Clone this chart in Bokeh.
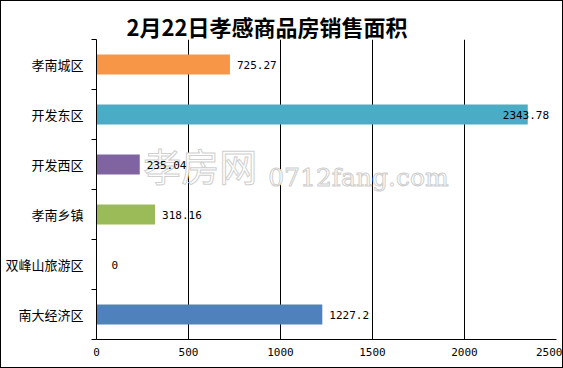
from bokeh.plotting import figure
from bokeh.models import FixedTicker, ColumnDataSource
from bokeh.core.properties import value
from bokeh.embed import file_html
from bokeh.resources import INLINE

categories = ["孝南城区", "开发东区", "开发西区", "孝南乡镇", "双峰山旅游区", "南大经济区"]
areas = [725.27, 2343.78, 235.04, 318.16, 0, 1227.2]
area_labels = ["725.27", "2343.78", "235.04", "318.16", "0", "1227.2"]
colors = ["#F79646", "#4BACC6", "#8064A2", "#9BBB59", "#4F81BD", "#4F81BD"]
x_ticks = [0, 500, 1000, 1500, 2000, 2500]
title_text = "2月22日孝感商品房销售面积"

n = len(categories)
ypos = [n - i - 0.5 for i in range(n)]
offsets = [(-25 if v > 2200 else (15 if v == 0 else 7)) for v in areas]

src = ColumnDataSource(dict(y=ypos, x=areas, label=area_labels, color=colors, off=offsets))

p = figure(width=563, height=368, x_range=(0, 2500), y_range=(0, n),
           output_backend="svg", toolbar_location=None,
           min_border_left=95, min_border_right=8, min_border_top=38, min_border_bottom=30,
           styles={"border": "1px solid black", "box-sizing": "border-box"})
p.outline_line_color = None

p.title.text = title_text
p.title.align = "left"
p.title.text_font = "Noto Sans CJK SC"
p.title.text_font_size = "22px"
p.title.text_font_style = "bold"
p.title.text_color = "black"
p.title.offset = 30
p.title.standoff = -4

# x axis
p.xaxis.ticker = FixedTicker(ticks=x_ticks, minor_ticks=[])
p.xaxis.major_tick_out = 0
p.xaxis.major_tick_in = 0
p.xaxis.major_label_standoff = 8
p.xaxis.axis_line_color = "black"
p.xaxis.major_label_text_font = "DejaVu Sans Mono"
p.xaxis.major_label_text_font_size = "11px"
p.xaxis.major_label_text_color = "black"

p.xgrid.ticker = FixedTicker(ticks=x_ticks, minor_ticks=[])
p.xgrid.grid_line_color = "black"
p.xgrid.grid_line_alpha = 1.0
p.ygrid.grid_line_color = None

# y axis
p.yaxis.ticker = FixedTicker(ticks=ypos, minor_ticks=list(range(n + 1)))
p.yaxis.major_label_overrides = {y: c for y, c in zip(ypos, categories)}
p.yaxis.major_tick_line_color = None
p.yaxis.major_tick_out = 0
p.yaxis.major_tick_in = 0
p.yaxis.minor_tick_line_color = "black"
p.yaxis.minor_tick_out = 5
p.yaxis.minor_tick_in = 0
p.yaxis.major_label_standoff = 8
p.yaxis.axis_line_color = "black"
p.yaxis.major_label_text_font = "Noto Sans CJK SC"
p.yaxis.major_label_text_font_size = "13px"
p.yaxis.major_label_text_color = "black"

# watermark
p.text(x=[254], y=[3.5], text=["孝房网"], text_baseline="middle",
       text_font=value("Noto Sans CJK SC"), text_font_size="38px",
       text_color="white", text_outline_color="#cfcfcf")
p.text(x=[933], y=[3.25], text=["0712fang.com"], text_baseline="middle",
       text_font=value("DejaVu Serif"), text_font_size="25px",
       text_color="white", text_outline_color="#cfcfcf")

p.hbar(y="y", left=0, right="x", height=0.4, fill_color="color", line_color=None, source=src)
p.text(x="x", y="y", text="label", x_offset="off", text_baseline="middle",
       text_font=value("DejaVu Sans Mono"), text_font_size="11px", text_color="black",
       source=src)

open("out.html", "w").write(file_html(p, INLINE))
